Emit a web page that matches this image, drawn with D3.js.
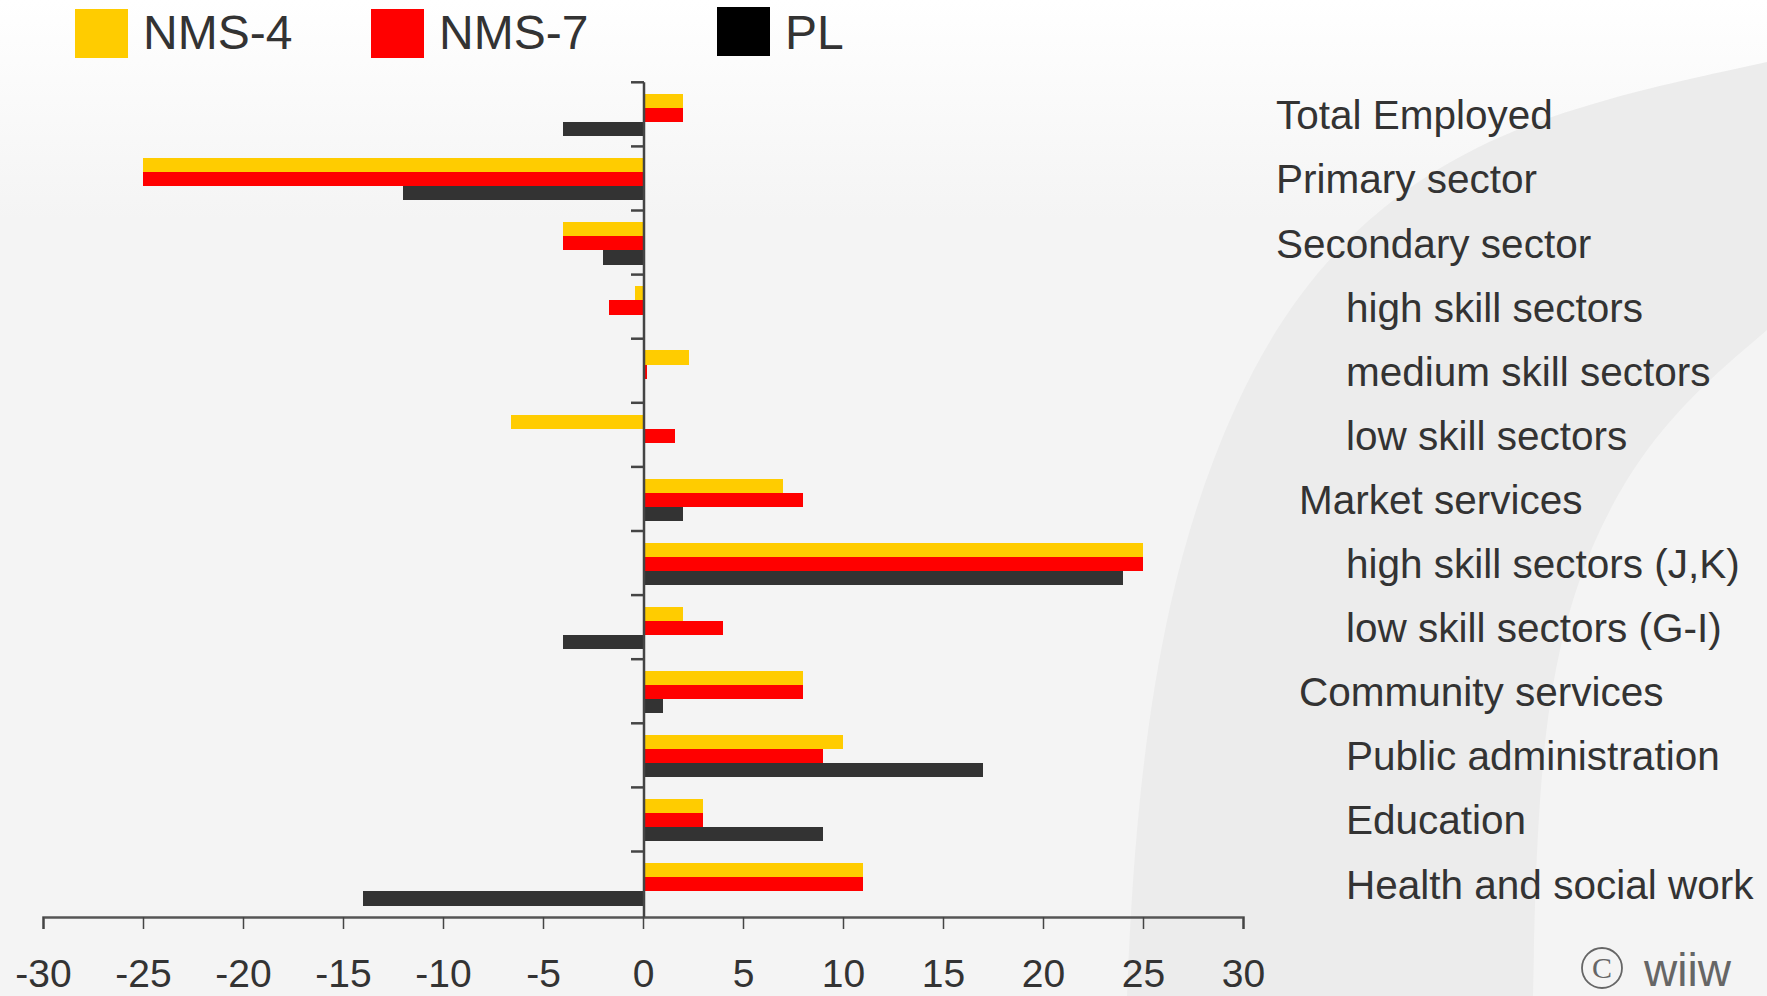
<!DOCTYPE html>
<html>
<head>
<meta charset="utf-8">
<script src="https://cdn.jsdelivr.net/npm/d3@7/dist/d3.min.js"></script>
<style>
  body { margin: 0; background: #f4f4f4; }
  svg { display: block; font-family: "Liberation Sans", Arial, sans-serif; }
</style>
</head>
<body>
<svg width="1767" height="996"></svg>
<script>
// categories from top to bottom, with their level in the sector hierarchy
var categories = [
  "Total Employed",
  "Primary sector",
  "Secondary sector",
  "high skill sectors",
  "medium skill sectors",
  "low skill sectors",
  "Market services",
  "high skill sectors (J,K)",
  "low skill sectors (G-I)",
  "Community services",
  "Public administration",
  "Education",
  "Health and social work"
];
var levels = [0, 0, 0, 2, 2, 2, 1, 2, 2, 1, 2, 2, 2];

// series values (change, %)
var seriesNames = ["NMS-4", "NMS-7", "PL"];
var nms4 = [2, -25, -4, -0.4, 2.3, -6.6, 7, 25, 2, 8, 10, 3, 11];
var nms7 = [2, -25, -4, -1.7, 0.2, 1.6, 8, 25, 4, 8, 9, 3, 11];
var pl = [-4, -12, -2, 0, 0, 0, 2, 24, -4, 1, 17, 9, -14];

var xTicks = [-30, -25, -20, -15, -10, -5, 0, 5, 10, 15, 20, 25, 30];

var barColors = ["#ffcc00", "#ff0000", "#333333"];
var legendColors = ["#ffcc00", "#ff0000", "#000000"];

var svg = d3.select("svg"),
  width = +svg.attr("width"),
  height = +svg.attr("height");

// background: white fade at the top and a grey swoosh on the right
var defs = svg.append("defs");
var grad = defs.append("linearGradient")
  .attr("id", "bg")
  .attr("x1", 0).attr("y1", 0).attr("x2", 0).attr("y2", 1);
grad.append("stop").attr("offset", "0%").attr("stop-color", "#ffffff");
grad.append("stop").attr("offset", "22%").attr("stop-color", "#f4f4f4");
grad.append("stop").attr("offset", "100%").attr("stop-color", "#f4f4f4");

svg.append("rect")
  .attr("width", width)
  .attr("height", height)
  .attr("fill", "url(#bg)");

var curve = d3.line().curve(d3.curveBasis);
var outer = [[1127, 996], [1135, 820], [1165, 600], [1230, 400], [1330, 240], [1500, 120], [1767, 62]];
var inner = [[1767, 330], [1650, 430], [1570, 580], [1538, 760], [1533, 996]];
svg.append("path")
  .attr("d", curve(outer) + "L" + curve(inner).slice(1) + "Z")
  .attr("fill", "#ececec");

// scales
var x = d3.scaleLinear().domain([-30, 30]).range([43, 1243]);
var y = d3.scaleBand().domain(categories).range([82.3, 915.6]);
var ySeries = d3.scaleBand().domain(seriesNames).range([11.7, 54]);

// flatten the series into one row per bar
var values = [nms4, nms7, pl];
var rows = [];
categories.forEach(function(c, i) {
  seriesNames.forEach(function(s, j) {
    rows.push({ category: c, series: s, value: values[j][i], color: barColors[j] });
  });
});

svg.append("g")
  .selectAll("rect")
  .data(rows)
  .enter()
  .append("rect")
  .attr("x", function(d) { return x(Math.min(0, d.value)); })
  .attr("y", function(d) { return y(d.category) + ySeries(d.series); })
  .attr("width", function(d) { return Math.abs(x(d.value) - x(0)); })
  .attr("height", ySeries.bandwidth())
  .attr("fill", function(d) { return d.color; })
  .attr("shape-rendering", "crispEdges");

// x axis
var xAxis = svg.append("g")
  .attr("transform", "translate(0," + 917 + ")")
  .call(
    d3.axisBottom(x)
      .tickValues(xTicks)
      .tickSize(12)
      .tickPadding(30)
      .tickFormat(function(d) { return String(d); })
  );
xAxis.select(".domain").attr("stroke", "#555").attr("stroke-width", 2.5);
xAxis.selectAll(".tick line").attr("stroke", "#444").attr("stroke-width", 1.5);
xAxis.selectAll("text")
  .attr("fill", "#333")
  .style("font-size", "39px")
  .style("font-family", "'Liberation Sans', Arial, sans-serif");

// y axis: a line at zero with ticks between the categories
var yAxis = svg.append("g");
yAxis.append("line")
  .attr("x1", x(0) + 1).attr("x2", x(0) + 1)
  .attr("y1", y.range()[0]).attr("y2", 917)
  .attr("stroke", "#444").attr("stroke-width", 2.5);
yAxis.selectAll(".ytick")
  .data(categories)
  .enter()
  .append("line")
  .attr("class", "ytick")
  .attr("x1", x(0) - 12).attr("x2", x(0) + 1)
  .attr("y1", function(d) { return y(d); })
  .attr("y2", function(d) { return y(d); })
  .attr("stroke", "#444").attr("stroke-width", 2.5);

// category labels on the right, indented by level
var indent = [1276, 1299, 1346];
svg.append("g")
  .selectAll("text")
  .data(categories)
  .enter()
  .append("text")
  .attr("x", function(d, i) { return indent[levels[i]]; })
  .attr("y", function(d) { return y(d) + y.bandwidth() / 2 + 15; })
  .attr("fill", "#333")
  .style("font-size", "40.5px")
  .text(function(d) { return d; });

// legend
var legendX = [75, 371, 717];
var legend = svg.append("g")
  .selectAll("g")
  .data(seriesNames)
  .enter()
  .append("g")
  .attr("transform", function(d, i) { return "translate(" + legendX[i] + ",0)"; });
legend.append("rect")
  .attr("x", 0)
  .attr("y", function(d, i) { return i === 2 ? 7 : 9; })
  .attr("width", 53)
  .attr("height", 49)
  .attr("fill", function(d, i) { return legendColors[i]; });
legend.append("text")
  .attr("x", function(d, i) { return i === 2 ? 68 : 68; })
  .attr("y", 49)
  .attr("fill", "#333")
  .style("font-size", "48px")
  .text(function(d) { return d; });

// copyright mark
var copy = svg.append("g").attr("transform", "translate(1602,968)");
copy.append("circle")
  .attr("r", 20)
  .attr("fill", "none")
  .attr("stroke", "#666")
  .attr("stroke-width", 1.8);
copy.append("text")
  .attr("text-anchor", "middle")
  .attr("y", 10)
  .attr("fill", "#666")
  .style("font-family", "'Liberation Serif', serif")
  .style("font-size", "30px")
  .text("C");
svg.append("text")
  .attr("x", 1644)
  .attr("y", 986)
  .attr("fill", "#666")
  .style("font-size", "46px")
  .text("wiiw");
</script>
</body>
</html>
